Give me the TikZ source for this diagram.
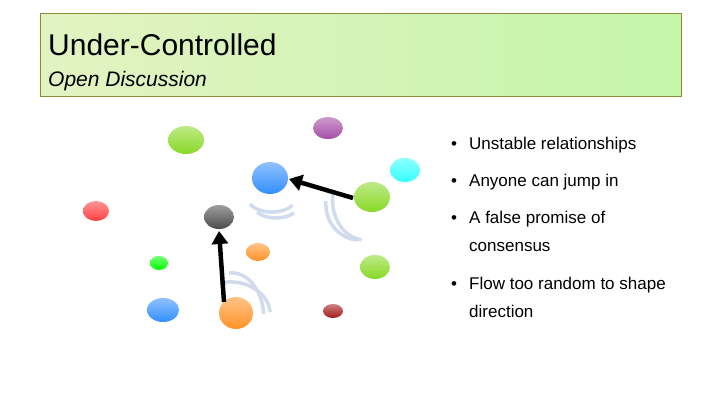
\documentclass[tikz,border=0pt]{standalone}
\usepackage{fontspec}
\setmainfont{Liberation Sans}
\usetikzlibrary{arrows.meta}
\definecolor{TitleClr}{rgb}{0.84,0.93,0.66}
\definecolor{WaveClr}{rgb}{0.82,0.86,0.93}

\tikzset{
  ball/.style={draw=none},
  wave/.style={WaveClr,line width=3.5pt},
  push/.style={line width=4.5pt,-{Triangle[length=13pt,width=16pt]}},
  item/.style={anchor=base west,font=\fontsize{17}{20}\selectfont,align=left}
}
\newcommand{\ball}[5]{% center x, center y, rx, ry, colour
  \colorlet{ballclr}{#5}%
  \shade[ball,top color=ballclr!55!white,bottom color=ballclr] (#1,#2) ellipse [x radius=#3,y radius=#4];}

\begin{document}
\begin{tikzpicture}[x=1pt,y=-1pt]
\useasboundingbox (0,0) rectangle (720,405);

% title
\shade[draw=olive!60!gray,left color=TitleClr!70!white,right color=TitleClr!80!green!70!white] (40,13) rectangle (681,96);
\node[anchor=base west,inner sep=0pt,font=\fontsize{30}{34}\selectfont] (title) at (48,55) {Under-Controlled};
\node[anchor=base west,inner sep=0pt,font=\itshape\fontsize{21}{24}\selectfont] (sub) at (48,86) {Open Discussion};

% participants
\ball{186}{140}{18}{14}{green!45!yellow!70!gray}
\ball{328}{128}{15}{11}{violet!70!white}
\ball{270}{178}{18}{16}{blue!55!cyan!80!white}
\ball{405}{170}{15}{12}{cyan!80!white}
\ball{372}{197}{18}{15}{green!45!yellow!70!gray}
\ball{96}{211}{13}{10}{red!75!white}
\ball{219}{217}{15}{12}{black!70}
\ball{258}{252}{12}{9}{orange!85!white}
\ball{159}{263}{9}{7}{green}
\ball{375}{267}{15}{12}{green!45!yellow!70!gray}
\ball{163}{310}{16}{12}{blue!55!cyan!80!white}
\ball{236}{313}{17}{16}{orange!85!white}
\ball{333}{311}{10}{7}{red!60!black!90}

% chatter
\draw[wave] (250,204) arc[start angle=155,end angle=30,x radius=24,y radius=14];
\draw[wave] (257,212) arc[start angle=150,end angle=35,x radius=22,y radius=12];
\draw[wave] (333,193) arc[start angle=190,end angle=95,x radius=32,y radius=40];
\draw[wave] (326,201) arc[start angle=185,end angle=95,x radius=34,y radius=36];
\draw[wave] (220,283) arc[start angle=255,end angle=355,x radius=40,y radius=33];
\draw[wave] (229,273) arc[start angle=265,end angle=355,x radius=32,y radius=45];

% interruptions
\coordinate (a1) at (353,198);
\coordinate (a2) at (289,179);
\coordinate (b1) at (224,302);
\coordinate (b2) at (219,231);
\draw[push] (a1) -- (a2);
\draw[push] (b1) -- (b2);

% points
\foreach \y/\t [count=\i] in {143/Unstable relationships,180/Anyone can jump in,217/A false promise of,283/Flow too random to shape}
  {\node[item,inner sep=0pt] (dot\i) at (451,\y+6) {•};
   \node[item,inner sep=0pt] (pt\i) at (469,\y+6) {\t};}
\node[item,inner sep=0pt] (pt3b) at (469,251) {consensus};
\node[item,inner sep=0pt] (pt4b) at (469,317) {direction};
\end{tikzpicture}
\end{document}
